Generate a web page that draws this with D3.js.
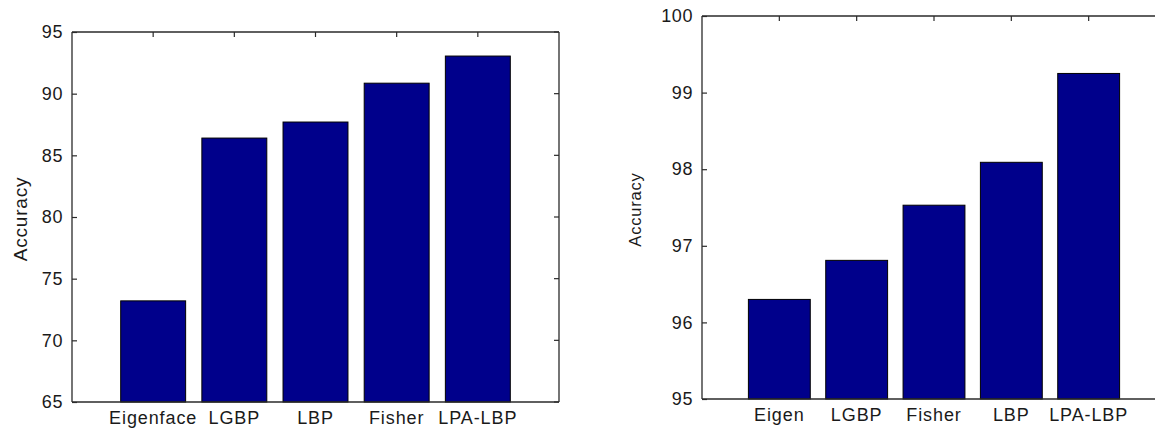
<!DOCTYPE html>
<html>
<head>
<meta charset="utf-8">
<script src="https://cdn.jsdelivr.net/npm/d3@7"></script>
<style>
  body { margin: 0; background: #fff; }
  svg { display: block; }
  text { font-family: "Liberation Sans", Arial, sans-serif; fill: #1a1a1a; }
</style>
</head>
<body>
<svg id="chart" width="1155" height="431"></svg>
<script>
// left panel
var leftNames = ["Eigenface", "LGBP", "LBP", "Fisher", "LPA-LBP"];
var leftValues = [73.2, 86.4, 87.7, 90.85, 93.05];
var leftTicks = [65, 70, 75, 80, 85, 90, 95];

// right panel
var rightNames = ["Eigen", "LGBP", "Fisher", "LBP", "LPA-LBP"];
var rightValues = [96.3, 96.81, 97.53, 98.09, 99.25];
var rightTicks = [95, 96, 97, 98, 99, 100];

var svg = d3.select("#chart");
var barColor = "#00008b";
var axisColor = "#2a2a2a";

function drawPanel(opts) {
  var x = d3.scaleLinear().domain([0, 6]).range([opts.left, opts.right]);
  var y = d3.scaleLinear().domain(opts.domain).range([opts.bottom, opts.top]);
  var g = svg.append("g");

  // bars, width 0.8 like matlab default
  g.selectAll("rect.bar").data(opts.values).enter().append("rect")
    .attr("class", "bar")
    .attr("x", (d, i) => x(i + 1 - 0.4))
    .attr("width", (d, i) => x(i + 1.4) - x(i + 0.6))
    .attr("y", d => y(d))
    .attr("height", d => y(opts.domain[0]) - y(d))
    .attr("fill", barColor)
    .attr("stroke", "#000")
    .attr("stroke-width", 1);

  // box
  var frame = g.append("g").attr("stroke", axisColor).attr("stroke-width", 1.3).attr("fill", "none");
  frame.append("line").attr("x1", opts.left).attr("x2", opts.left).attr("y1", opts.top).attr("y2", opts.bottom);
  frame.append("line").attr("x1", opts.left).attr("x2", opts.right).attr("y1", opts.top).attr("y2", opts.top);
  frame.append("line").attr("x1", opts.left).attr("x2", opts.right).attr("y1", opts.bottom).attr("y2", opts.bottom);
  frame.append("line").attr("x1", opts.right).attr("x2", opts.right).attr("y1", opts.top).attr("y2", opts.bottom);

  // y axis, ticks pointing inward
  var yAxis = d3.axisLeft(y).tickValues(opts.ticks).tickSize(-5).tickPadding(9).tickFormat(d3.format("d"));
  var ya = g.append("g").attr("transform", "translate(" + opts.left + ",0)").call(yAxis);
  ya.select(".domain").remove();
  ya.selectAll("line").attr("stroke", axisColor).attr("stroke-width", 1.2);
  ya.selectAll("text").attr("font-size", opts.fontSize).attr("letter-spacing", "0.6px")
    .attr("font-family", "Liberation Sans, Arial, sans-serif").attr("fill", "#1a1a1a");

  // right-side ticks
  g.selectAll("line.rtick").data(opts.ticks).enter().append("line")
    .attr("x1", opts.right).attr("x2", opts.right - 5)
    .attr("y1", d => y(d)).attr("y2", d => y(d))
    .attr("stroke", axisColor).attr("stroke-width", 1.2);

  // top ticks at bar centres
  g.selectAll("line.ttick").data(opts.names).enter().append("line")
    .attr("x1", (d, i) => x(i + 1)).attr("x2", (d, i) => x(i + 1))
    .attr("y1", opts.top).attr("y2", opts.top + 5)
    .attr("stroke", axisColor).attr("stroke-width", 1.2);

  // category labels
  g.selectAll("text.cat").data(opts.names).enter().append("text")
    .attr("class", "cat")
    .attr("x", (d, i) => x(i + 1))
    .attr("y", opts.bottom + 22)
    .attr("text-anchor", "middle")
    .attr("font-size", opts.fontSize)
    .attr("letter-spacing", "0.9px")
    .text(d => d);

  // y label
  g.append("text")
    .attr("transform", "translate(" + opts.labelX + "," + ((opts.top + opts.bottom) / 2 + 2) + ") rotate(-90)")
    .attr("text-anchor", "middle")
    .attr("font-size", opts.labelSize)
    .attr("letter-spacing", "0.8px")
    .text("Accuracy");
}

drawPanel({
  names: leftNames, values: leftValues, ticks: leftTicks, domain: [65, 95],
  left: 72, right: 559, top: 32, bottom: 402,
  fontSize: 18, labelSize: 19, labelX: 27
});

drawPanel({
  names: rightNames, values: rightValues, ticks: rightTicks, domain: [95, 100],
  left: 702, right: 1166, top: 16, bottom: 399,
  fontSize: 18, labelSize: 16.5, labelX: 641
});
</script>
</body>
</html>
